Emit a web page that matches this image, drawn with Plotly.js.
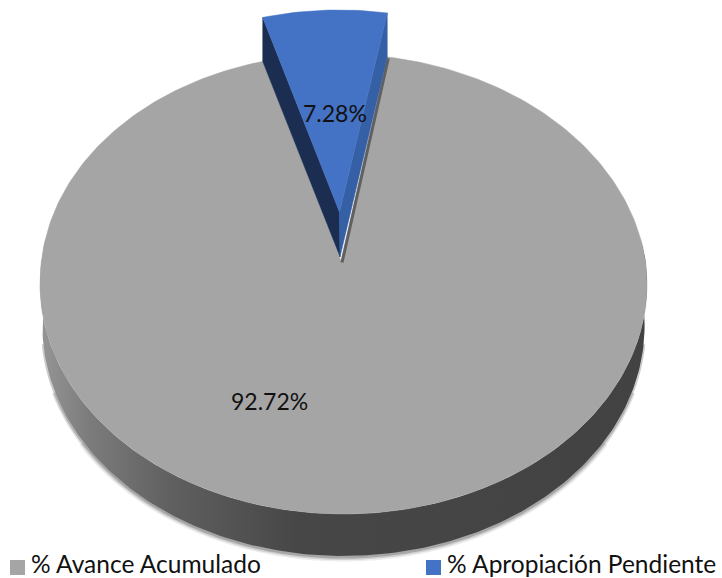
<!DOCTYPE html>
<html><head><meta charset="utf-8">
<script src="https://cdn.plot.ly/plotly-3.0.1.min.js"></script>
<style>html,body{margin:0;padding:0;background:#fff}</style></head>
<body><div id="chart" style="width:722px;height:578px"></div>
<script>
const categories = ['% Avance Acumulado', '% Apropiación Pendiente'];
const values = [92.72, 7.28];
const colors = ['#a5a5a5', '#4472c4'];

// Projection of the tilted disc onto the 722x578 data space
const cx = 343.5, cy = 261, A = 302, B = 227.7, P = 0.1, wall = 42;
const startDeg = 10.1;
const rad = d => d * Math.PI / 180;
function proj(r, deg) {
  const X = r * Math.sin(rad(deg)), Z = r * Math.cos(rad(deg));
  const s = 1 / (1 + P * Z);
  const apexPull = -2.5 * (1 - r) - 4.5 * Math.max(Z, 0);
  return [cx + A * X * s + apexPull, cy - B * Z * s];
}
const sweep = values.map(v => v / 100 * 360);
const grayStart = startDeg, grayEnd = startDeg + sweep[0], blueStart = grayEnd - 360, blueEnd = startDeg;
function arc(a, b, n) { const o = []; for (let i = 0; i <= n; i++) o.push(proj(1, a + (b - a) * i / n)); return o; }
function toXY(pts) { return { x: pts.map(p => p[0]), y: pts.map(p => p[1]) }; }
const lower = pts => pts.map(p => [cx + (p[0] - cx) * 0.992, p[1] + wall]);

const blueTop = (r, d) => { const p = proj(r, d); return [p[0] - 1.5 * (1 - r), p[1] - (49 - 5 * r)]; };
const blueBase = (r, d) => { const p = proj(r, d); return [p[0] - (1 - r), p[1] - 4 * (1 - r)]; };

const bottomArc = lower(arc(95, 265, 170));
const grayFace = [proj(0, 0)].concat(arc(grayStart, grayEnd, 300)); grayFace.push(proj(0, 0));
const wallPoly = arc(85, 275, 190).concat(bottomArc.slice().reverse());

const blueFace = [blueTop(0, 0)];
for (let i = 0; i <= 24; i++) blueFace.push(blueTop(1, blueStart + (blueEnd - blueStart) * i / 24));
blueFace.push(blueTop(0, 0));
const wallLeft = [blueTop(1, blueStart), blueTop(0, 0), blueBase(0, 0), blueBase(1, blueStart), blueTop(1, blueStart)];
const wallRight = [blueTop(1, blueEnd), blueTop(0, 0), blueBase(0, 0), blueBase(1, blueEnd), blueTop(1, blueEnd)];

const base = { type: 'scatter', hoverinfo: 'skip', showlegend: false };
const shadow = (a0, a1, w, a) => Object.assign({}, base, toXY(lower(arc(a0, a1, 120)).map(p => [p[0], p[1] + 1])), {
  mode: 'lines', line: { color: 'rgba(0,0,0,' + a + ')', width: w, shape: 'spline' } });
const poly = (pts, color, extra) => Object.assign({}, base, toXY(pts), {
  mode: 'lines', fill: 'toself', fillcolor: color, line: { color: color, width: 0.5 } }, extra || {});

const edgeShadow = [proj(1, grayStart), proj(0, 0)].map(p => [p[0] + 1, p[1] + 1.5]);

const data = [
  shadow(125, 235, 9, 0.07), shadow(112, 248, 6, 0.12), shadow(100, 260, 3, 0.2),
  poly(wallPoly, '#555555', {
    line: { width: 0, color: 'rgba(0,0,0,0)' },
    fillgradient: { type: 'horizontal', colorscale: [[0, '#969696'], [0.08, '#7c7c7c'], [0.22, '#5f5f5f'], [0.42, '#474747'], [1, '#424242']] }
  }),
  poly(grayFace, colors[0], { name: categories[0] }),
  Object.assign({}, base, toXY(edgeShadow), { mode: 'lines', line: { color: 'rgba(50,50,50,0.6)', width: 3 } }),
  poly(wallLeft, '#1b2e52'),
  poly(wallRight, '#3560a6'),
  poly(blueFace, colors[1], { name: categories[1] }),
  Object.assign({}, base, { x: [17.5, 433.5], y: [567.5, 567.5], mode: 'markers',
    marker: { symbol: 'square', size: 15, color: colors, line: { width: 0 } } })
];

const fontFamily = 'Lato, Carlito, Calibri, sans-serif';
const note = (x, y, text, anchor, size) => ({ x: x, y: y, text: text, showarrow: false, xanchor: anchor || 'center', yanchor: 'middle',
  font: { family: fontFamily, color: '#111111', size: size } });
const layout = {
  width: 722, height: 578, margin: { l: 0, r: 0, t: 0, b: 0 },
  paper_bgcolor: '#fff', plot_bgcolor: '#fff', showlegend: false,
  xaxis: { range: [0, 722], visible: false, fixedrange: true },
  yaxis: { range: [578, 0], visible: false, fixedrange: true },
  annotations: [
    note(269.5, 401, values[0].toFixed(2) + '%', 'center', 23),
    note(334.5, 113, values[1].toFixed(2) + '%', 'center', 23),
    note(29, 563.5, categories[0], 'left', 24.5),
    note(445, 563.5, categories[1], 'left', 24.5)
  ]
};
Plotly.newPlot('chart', data, layout, { displayModeBar: false, staticPlot: true });
</script></body></html>
